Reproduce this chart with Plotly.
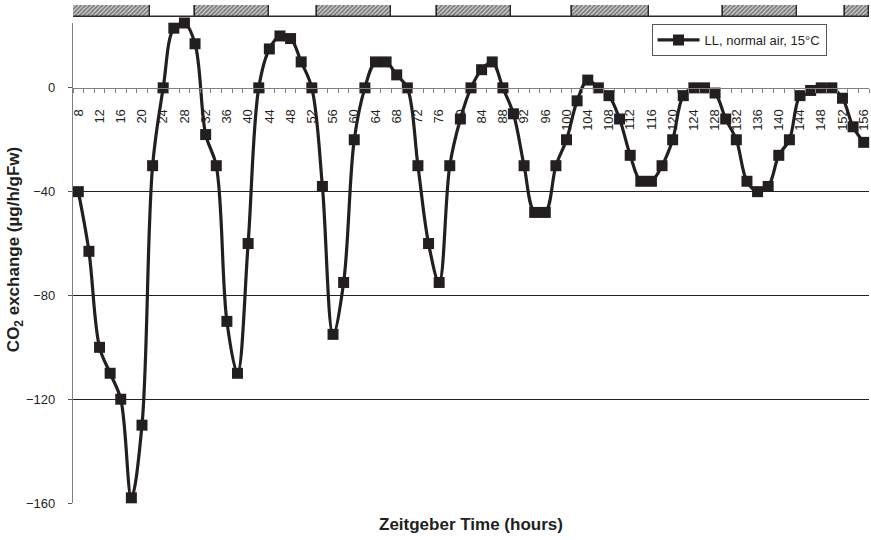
import plotly.graph_objects as go

# Zeitgeber time (h) and CO2 exchange, sampled every 2 h
zt_hours = list(range(8, 157, 2))
co2_exchange = [
    -40, -63, -100, -110, -120, -158, -130, -30, 0, 23,
    25, 17, -18, -30, -90, -110, -60, 0, 15, 20,
    19, 10, 0, -38, -95, -75, -20, 0, 10, 10,
    5, 0, -30, -60, -75, -30, -12, 0, 7, 10,
    0, -10, -30, -48, -48, -30, -20, -5, 3, 0,
    -3, -12, -26, -36, -36, -30, -20, -3, 0, 0,
    -2, -12, -20, -36, -40, -38, -26, -20, -3, -1,
    0, 0, -4, -15, -21,
]
series_name = "LL, normal air, 15°C"

# Light regime bar: edges of the segments (h) and whether each is hatched
period_edges = [7, 21.5, 30, 44, 53, 67, 75.5, 89.5, 101, 115.5, 129.5, 143.5, 152.5, 157]
period_hatched = [True, False, True, False, True, False, True, False, True, False, True, False, True]

x_tick_labels = list(range(8, 157, 4))
y_tick_values = [-160, -120, -80, -40, 0]

INK = "#231f20"
FONT = "Liberation Sans, Arial, sans-serif"

fig = go.Figure()

# light/dark bar across the top
starts = period_edges[:-1]
widths = [b - a for a, b in zip(period_edges[:-1], period_edges[1:])]
for hatched in (False, True):
    sel = [i for i, h in enumerate(period_hatched) if h == hatched]
    fig.add_trace(go.Bar(
        orientation="h",
        y=[0] * len(sel),
        base=[starts[i] for i in sel],
        x=[widths[i] for i in sel],
        width=1,
        xaxis="x", yaxis="y2",
        marker=dict(
            color="white",
            line=dict(color="#2a2a2a", width=1.4),
            pattern=dict(shape="/" if hatched else "", fgcolor="#000000",
                         bgcolor="white", size=3, solidity=0.75),
        ),
        showlegend=False, hoverinfo="skip",
    ))

fig.add_trace(go.Scatter(
    x=zt_hours, y=co2_exchange, name=series_name,
    mode="lines+markers", cliponaxis=False,
    line=dict(color=INK, width=3.2, shape="spline", smoothing=1.0),
    marker=dict(symbol="square", size=11, color=INK),
))

paper_h = 540 - 5 - 37
main_top = 480 / paper_h
zero_pos = main_top * (0 - (-160)) / (25 - (-160))

fig.update_layout(
    width=871, height=540,
    margin=dict(l=73, r=0, t=5, b=37),
    paper_bgcolor="white", plot_bgcolor="white",
    barmode="overlay", bargap=0,
    font=dict(family=FONT, size=13, color=INK),
    showlegend=True,
    legend=dict(
        x=(653 - 73) / 798, y=(503 - 24) / paper_h,
        xanchor="left", yanchor="top",
        bordercolor="#555555", borderwidth=1, bgcolor="white",
        font=dict(family=FONT, size=13, color=INK),
        itemwidth=42, tracegroupgap=0,
    ),
    xaxis=dict(
        range=[7, 157],
        anchor="free", position=zero_pos,
        showline=True, linecolor="#808080", linewidth=1.2,
        showgrid=False, zeroline=False,
        tickmode="array", tickvals=x_tick_labels,
        ticktext=[str(v) for v in x_tick_labels],
        ticks="outside", ticklen=0, tickcolor="#808080",
        tickangle=-90, ticklabelstandoff=15, ticklabeloverflow="allow",
        tickfont=dict(family=FONT, size=13, color=INK),
        minor=dict(tickvals=[v + 1 for v in range(6, 157, 2)],
                   ticks="outside", ticklen=4, tickcolor="#808080", tickwidth=1),
    ),
    yaxis=dict(
        domain=[0, main_top],
        range=[-160, 25],
        showline=True, linecolor="#808080", linewidth=1.2,
        zeroline=False,
        tickmode="array", tickvals=y_tick_values,
        ticks="outside", ticklen=4, tickcolor="#555555",
        ticklabelstandoff=10,
        showgrid=False,
        tickfont=dict(family=FONT, size=13, color=INK),
        minor=dict(tickvals=[v for v in y_tick_values if v != 0],
                   showgrid=True, gridcolor="#222222", gridwidth=1, ticks=""),
    ),
    yaxis2=dict(
        domain=[(503 - 17) / paper_h, 1],
        range=[-0.5, 0.5], anchor="x",
        showline=False, showgrid=False, zeroline=False,
        showticklabels=False, ticks="",
    ),
    annotations=[
        dict(text="Zeitgeber Time (hours)", xref="paper", yref="paper",
             x=(472 - 73) / 798, y=(503 - 524) / paper_h, xanchor="center", yanchor="middle",
             showarrow=False, font=dict(family=FONT, size=17, color=INK, weight="bold")),
        dict(text="CO<sub>2</sub> exchange (µg/h/gFw)", xref="paper", yref="paper",
             x=(15 - 73) / 798, y=(503 - 250) / paper_h, xanchor="center", yanchor="middle",
             textangle=-90, showarrow=False,
             font=dict(family=FONT, size=17, color=INK, weight="bold")),
    ],
)

fig.write_html("out.html")
